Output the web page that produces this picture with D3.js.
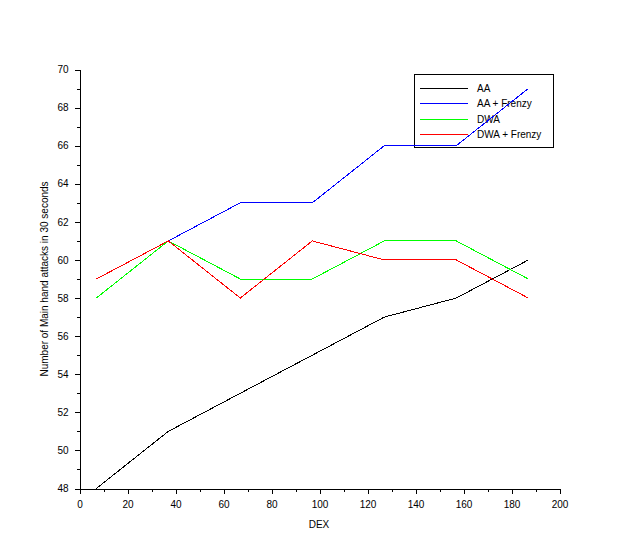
<!DOCTYPE html>
<html><head><meta charset="utf-8">
<script src="https://cdn.jsdelivr.net/npm/d3@7"></script>
<style>body{margin:0;background:#fff}svg{display:block}text{font-family:"Liberation Sans",Arial,sans-serif;}</style>
</head><body>
<script>
const dex = [7, 37, 67, 97, 127, 157, 187];
const seriesNames = ["AA", "AA + Frenzy", "DWA", "DWA + Frenzy"];
const seriesColors = ["#000000", "#0000ff", "#00ff00", "#ff0000"];
const aa = [48, 51, 53, 55, 57, 58, 60];
const aaFrenzy = [59, 61, 63, 63, 66, 66, 69];
const dwa = [58, 61, 59, 59, 61, 61, 59];
const dwaFrenzy = [59, 61, 58, 61, 60, 60, 58];
const seriesValues = [aa, aaFrenzy, dwa, dwaFrenzy];
const xTicks = [0, 20, 40, 60, 80, 100, 120, 140, 160, 180, 200];
const yTicks = [48, 50, 52, 54, 56, 58, 60, 62, 64, 66, 68, 70];

const W = 638, H = 560;
const svg = d3.select("body").append("svg").attr("width", W).attr("height", H);
const x = d3.scaleLinear().domain([0, 200]).range([79.5, 559.5]);
const y = d3.scaleLinear().domain([48, 70]).range([488.5, 69.5]);

// legend (drawn under the curves, as in the reference)
const lg = svg.append("g");
lg.append("rect").attr("x", 414.5).attr("y", 74.5).attr("width", 139).attr("height", 73)
  .attr("fill", "#fff").attr("stroke", "#000").attr("shape-rendering", "crispEdges");
const legendRow = d3.scalePoint().domain(seriesNames).range([88, 134]);
seriesNames.forEach((n, k) => {
  const yy = Math.round(legendRow(n)) + 0.5;
  lg.append("rect").attr("x", 420).attr("y", yy - 0.5).attr("width", 48).attr("height", 1)
    .attr("fill", seriesColors[k]);
  lg.append("text").attr("x", 477).attr("y", yy + 3.5).attr("font-size", 10).text(n);
});

// minor ticks
const g = svg.append("g");
g.append("g").attr("transform", "translate(0,488.5)")
  .call(d3.axisBottom(x).tickValues(d3.range(0, 201, 10)).tickSize(3).tickFormat(""))
  .call(s => s.select(".domain").remove());
g.append("g").attr("transform", "translate(79.5,0)")
  .call(d3.axisLeft(y).tickValues(d3.range(48, 71, 1)).tickSize(3).tickFormat(""))
  .call(s => s.select(".domain").remove());

g.append("g").attr("transform", "translate(0,488.5)")
  .call(d3.axisBottom(x).tickValues(xTicks).tickSize(5).tickSizeOuter(0).tickPadding(7));
g.append("g").attr("transform", "translate(79.5,0)")
  .call(d3.axisLeft(y).tickValues(yTicks).tickSize(5).tickSizeOuter(0).tickPadding(6));
svg.selectAll(".tick text").attr("font-size", 10).attr("font-family", "'Liberation Sans',Arial,sans-serif").attr("fill", "#000");
svg.selectAll(".tick line, .domain").attr("stroke", "#000").attr("shape-rendering", "crispEdges");

const line = d3.line().x((d, i) => x(dex[i])).y(d => y(d));
seriesValues.forEach((vals, k) => {
  svg.append("path").datum(vals).attr("d", line).attr("fill", "none")
    .attr("stroke", seriesColors[k]).attr("stroke-width", 1)
    .attr("shape-rendering", "crispEdges");
});

svg.append("text").attr("x", 319).attr("y", 528).attr("text-anchor", "middle")
  .attr("font-size", 10).text("DEX");
svg.append("text").attr("transform", "translate(48,279) rotate(-90)").attr("text-anchor", "middle")
  .attr("font-size", 10).text("Number of Main hand attacks in 30 seconds");
</script>
</body></html>
